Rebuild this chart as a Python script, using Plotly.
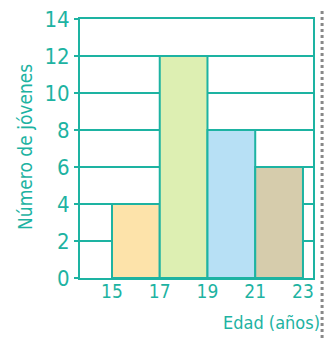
import plotly.graph_objects as go

# histogram data
edges = [15, 17, 19, 21, 23]
jovenes = [4, 12, 8, 6]
bar_colors = ["#FDE3AA", "#DDEFB2", "#B7E0F5", "#D6CCAC"]
y_ticks = [0, 2, 4, 6, 8, 10, 12, 14]

teal = "#1DB3A2"
font_name = "DejaVu Sans Condensed, Liberation Sans Narrow, sans-serif"

mids = [(edges[i] + edges[i + 1]) / 2 for i in range(len(jovenes))]
widths = [edges[i + 1] - edges[i] for i in range(len(jovenes))]

fig = go.Figure()
fig.add_trace(go.Bar(
    x=mids,
    y=jovenes,
    width=widths,
    marker=dict(color=bar_colors, line=dict(color=teal, width=2)),
    hoverinfo="skip",
))

# page body has an 8px margin, so the figure is sized/shifted to compensate
fig.update_layout(
    width=324,
    height=330,
    margin=dict(l=72, r=19, t=11, b=60),
    plot_bgcolor="white",
    paper_bgcolor="white",
    showlegend=False,
    font=dict(family=font_name, color=teal),
)

fig.update_xaxes(
    range=[13.66, 23.42],
    tickvals=edges,
    ticktext=[str(e) for e in edges],
    tickfont=dict(size=19, color=teal),
    ticklabelstandoff=-5,
    showgrid=False,
    zeroline=False,
    showline=True,
    linecolor=teal,
    linewidth=2,
    mirror=True,
    ticks="",
    automargin=False,
)

fig.update_yaxes(
    range=[0, 14],
    tickvals=y_ticks,
    tickfont=dict(size=22, color=teal),
    ticklabeloverflow="allow",
    showgrid=True,
    gridcolor=teal,
    gridwidth=2,
    zeroline=False,
    showline=True,
    linecolor=teal,
    linewidth=2,
    mirror=True,
    ticks="outside",
    ticklen=4,
    tickwidth=2,
    tickcolor=teal,
    automargin=False,
)

fig.add_annotation(
    text="Número de jóvenes",
    xref="paper", yref="paper",
    x=-0.236, y=0.506,
    xanchor="center", yanchor="middle",
    textangle=-90,
    showarrow=False,
    font=dict(size=19, color=teal, family=font_name),
)
fig.add_annotation(
    text="Edad (años)",
    xref="paper", yref="paper",
    x=1.039, y=-0.17,
    xanchor="right", yanchor="middle",
    showarrow=False,
    font=dict(size=18, color=teal, family=font_name),
)

# dashed page edge on the right
fig.add_shape(
    type="line",
    xref="paper", yref="paper",
    x0=1.039, x1=1.039, y0=-0.232, y1=1.042,
    line=dict(color="#888888", width=3, dash="dot"),
)

fig.write_html("out.html")
